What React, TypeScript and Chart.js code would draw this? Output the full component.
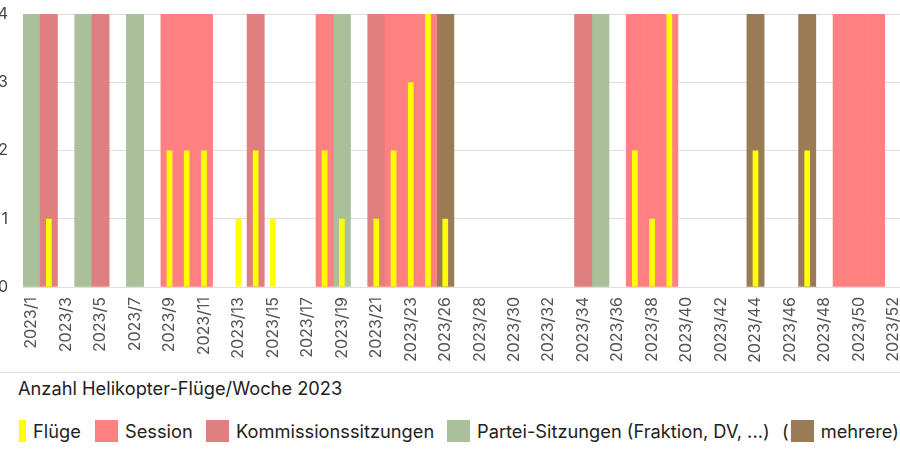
import React, { useEffect, useRef } from "react";
import { Chart, registerables } from "chart.js";

Chart.register(...registerables);

// Calendar weeks shown on the x axis (week 25 absent in the source)
const weeks: string[] = [
  "2023/1", "2023/2", "2023/3", "2023/4", "2023/5", "2023/6", "2023/7", "2023/8",
  "2023/9", "2023/10", "2023/11", "2023/12", "2023/13", "2023/14", "2023/15", "2023/16",
  "2023/17", "2023/18", "2023/19", "2023/20", "2023/21", "2023/22", "2023/23", "2023/24",
  "2023/26", "2023/27", "2023/28", "2023/29", "2023/30", "2023/31", "2023/32", "2023/33",
  "2023/34", "2023/35", "2023/36", "2023/37", "2023/38", "2023/39", "2023/40", "2023/41",
  "2023/42", "2023/43", "2023/44", "2023/45", "2023/46", "2023/47", "2023/48", "2023/49",
  "2023/50", "2023/51", "2023/52",
];

// Helicopter flights per week
const flights: number[] = [
  0, 1, 0, 0, 0, 0, 0, 0,
  2, 2, 2, 0, 1, 2, 1, 0,
  0, 2, 1, 0, 1, 2, 3, 4,
  1, 0, 0, 0, 0, 0, 0, 0,
  0, 0, 0, 2, 1, 4, 0, 0,
  0, 0, 2, 0, 0, 2, 0, 0,
  0, 0, 0,
];

// Weeks with events (background bands)
const sessionWeeks: string[] = [
  "2023/9", "2023/10", "2023/11", "2023/18", "2023/22", "2023/23", "2023/24",
  "2023/37", "2023/38", "2023/39", "2023/49", "2023/50", "2023/51",
];
const kommissionWeeks: string[] = ["2023/2", "2023/5", "2023/14", "2023/21", "2023/34"];
const parteiWeeks: string[] = ["2023/1", "2023/4", "2023/7", "2023/19", "2023/35"];
const mehrereWeeks: string[] = ["2023/26", "2023/44", "2023/47"];

const bandHeight = 4;
const yMax = 4;

const COLORS = {
  flights: "#ffff00",
  session: "#ff8080",
  kommission: "#df7f7f",
  partei: "#a9c09a",
  mehrere: "#9a7b55",
};

const FONT = "Inter, 'Noto Sans', sans-serif";

function band(list: string[]) {
  return weeks.map((w) => (list.includes(w) ? bandHeight : null));
}

export default function App() {
  const ref = useRef<HTMLCanvasElement | null>(null);

  useEffect(() => {
    document.body.style.margin = "0";
    document.body.style.overflow = "hidden";
    if (!ref.current) return;
    const bgCommon = {
      grouped: false,
      barPercentage: 1,
      categoryPercentage: 1,
      borderWidth: 0,
      order: 1,
    };
    const chart = new Chart(ref.current, {
      type: "bar",
      data: {
        labels: weeks,
        datasets: [
          {
            label: "Flüge",
            data: flights,
            backgroundColor: COLORS.flights,
            grouped: false,
            barPercentage: 0.33,
            categoryPercentage: 1,
            borderWidth: 0,
            order: 0,
          },
          { label: "Session", data: band(sessionWeeks), backgroundColor: COLORS.session, ...bgCommon },
          { label: "Kommissionssitzungen", data: band(kommissionWeeks), backgroundColor: COLORS.kommission, ...bgCommon },
          { label: "Partei-Sitzungen (Fraktion, DV, ...)", data: band(parteiWeeks), backgroundColor: COLORS.partei, ...bgCommon },
          { label: "mehrere", data: band(mehrereWeeks), backgroundColor: COLORS.mehrere, ...bgCommon },
        ] as any,
      },
      options: {
        animation: false,
        responsive: true,
        maintainAspectRatio: false,
        layout: { padding: { top: 0, left: 0, right: 0, bottom: 0 } },
        plugins: {
          legend: { display: false },
          title: { display: false },
          tooltip: { enabled: false },
        },
        scales: {
          x: {
            grid: { display: false, drawTicks: false },
            border: { display: false },
            ticks: {
              autoSkip: false,
              minRotation: 90,
              maxRotation: 90,
              padding: 10,
              color: "#555",
              font: { family: FONT, size: 16 },
              callback: (_v: any, i: number) => (i % 2 === 0 ? weeks[i] : ""),
            },
            afterFit: (scale: any) => {
              scale.height = 85;
              scale.paddingLeft = 0;
              scale.paddingRight = 0;
            },
          },
          y: {
            min: 0,
            max: yMax,
            z: 1,
            grid: { color: "rgba(0,0,0,0.13)", drawTicks: false },
            border: { display: false },
            ticks: {
              stepSize: 1,
              padding: 15,
              color: "#444",
              font: { family: FONT, size: 16 },
            },
            afterFit: (scale: any) => {
              scale.width = 23;
              scale.paddingTop = 14;
              scale.paddingBottom = 0;
            },
          },
        },
      } as any,
    });
    return () => chart.destroy();
  }, []);

  const swatch = (color: string, w: number) => (
    <span style={{ display: "inline-block", width: w, height: 22, background: color, marginRight: 7 }} />
  );
  const item = (left: number): React.CSSProperties => ({
    position: "absolute",
    left,
    top: 0,
    height: 24,
    display: "flex",
    alignItems: "center",
    whiteSpace: "nowrap",
  });

  return (
    <div style={{ width: 900, height: 450, overflow: "hidden", fontFamily: FONT, color: "#222", position: "relative" }}>
      <div style={{ position: "relative", width: 902, height: 372 }}>
        <canvas ref={ref} />
      </div>
      <div style={{ borderTop: "1px solid #e2e2e2", width: 900 }}>
        <div style={{ paddingLeft: 18, paddingTop: 4, fontSize: 18.25, lineHeight: "22px" }}>
          Anzahl Helikopter-Flüge/Woche 2023
        </div>
        <div style={{ position: "relative", height: 24, marginTop: 20, fontSize: 18.25 }}>
          <span style={item(19)}>{swatch(COLORS.flights, 7)}Flüge</span>
          <span style={item(95)}>{swatch(COLORS.session, 23)}Session</span>
          <span style={item(206)}>{swatch(COLORS.kommission, 23)}Kommissionssitzungen</span>
          <span style={item(447)}>{swatch(COLORS.partei, 23)}Partei-Sitzungen (Fraktion, DV, ...)</span>
          <span style={item(782)}>
            <span style={{ marginRight: 2 }}>(</span>
            {swatch(COLORS.mehrere, 23)}mehrere)
          </span>
        </div>
      </div>
    </div>
  );
}
